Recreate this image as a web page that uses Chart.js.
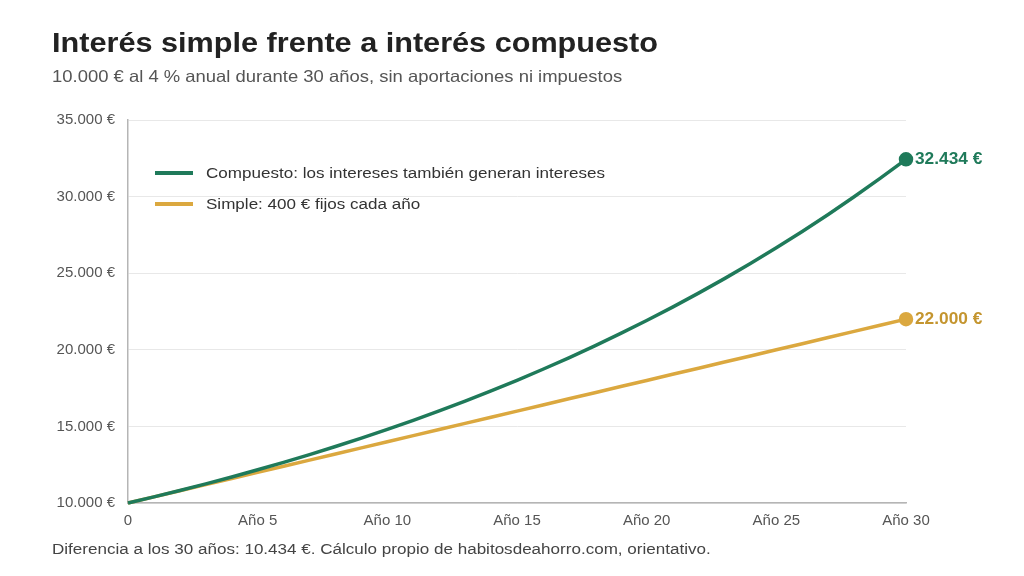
<!DOCTYPE html>
<html><head><meta charset="utf-8">
<script src="https://cdn.jsdelivr.net/npm/chart.js@4.4.1/dist/chart.umd.min.js"></script>
<style>
html,body{margin:0;padding:0;background:#fff;width:1024px;height:576px;overflow:hidden;font-family:"Liberation Sans",Arial,sans-serif;}
#wrap{position:relative;width:1024px;height:576px;}
canvas{position:absolute;left:0;top:0;}
.t{position:absolute;white-space:nowrap;transform-origin:0 50%;}
#title{left:52px;top:27px;font-size:28px;font-weight:bold;color:#222;transform:scaleX(1.094);}
#sub{left:52px;top:67px;font-size:16.5px;color:#555;transform:scaleX(1.118);}
#foot{left:52px;top:540px;font-size:15.5px;color:#444;transform:scaleX(1.10);}
.leg{position:absolute;left:155px;font-size:15.5px;color:#333;white-space:nowrap;}
.leg .sw{display:inline-block;width:38px;height:4.5px;vertical-align:middle;position:relative;top:-1px;}
.leg .lt{display:inline-block;margin-left:13px;transform:scaleX(1.10);transform-origin:0 50%;}
</style></head>
<body><div id="wrap">
<canvas id="c" width="1024" height="576"></canvas>
<div class="t" id="title">Interés simple frente a interés compuesto</div>
<div class="t" id="sub">10.000 € al 4 % anual durante 30 años, sin aportaciones ni impuestos</div>
<div class="t" id="foot">Diferencia a los 30 años: 10.434 €. Cálculo propio de habitosdeahorro.com, orientativo.</div>
<div class="leg" style="top:164px"><span class="sw" style="background:#1f7a5a"></span><span class="lt" id="leg1"></span></div>
<div class="leg" style="top:195px"><span class="sw" style="background:#dba83f"></span><span class="lt" id="leg2"></span></div>
</div>
<script>
const years = [0,1,2,3,4,5,6,7,8,9,10,11,12,13,14,15,16,17,18,19,20,21,22,23,24,25,26,27,28,29,30];
const compuesto = [10000,10400,10816,11249,11699,12167,12653,13159,13686,14233,14802,15395,16010,16651,17317,18009,18730,19479,20258,21068,21911,22788,23699,24647,25633,26658,27725,28834,29987,31187,32434];
const simple = [10000,10400,10800,11200,11600,12000,12400,12800,13200,13600,14000,14400,14800,15200,15600,16000,16400,16800,17200,17600,18000,18400,18800,19200,19600,20000,20400,20800,21200,21600,22000];
const seriesNames = ["Compuesto: los intereses también generan intereses","Simple: 400 € fijos cada año"];
const endLabels = ["32.434 €","22.000 €"];
const yTicks = [10000,15000,20000,25000,30000,35000];

document.getElementById('leg1').textContent = seriesNames[0];
document.getElementById('leg2').textContent = seriesNames[1];

const GREEN = "#1f7a5a", GOLD = "#dba83f", GOLD_TXT = "#c4952f";
const FONT = '"Liberation Sans", Arial, sans-serif';
function fmt(v){ return String(Math.round(v)).replace(/\B(?=(\d{3})+(?!\d))/g, ".") + " €"; }

const endLabelPlugin = {
  id:'endLabels',
  afterDatasetsDraw(chart){
    const ctx = chart.ctx;
    const cols = [GREEN, GOLD_TXT];
    chart.data.datasets.forEach((ds,i)=>{
      const meta = chart.getDatasetMeta(i);
      const pt = meta.data[meta.data.length-1];
      ctx.save();
      ctx.font = 'bold 16px ' + FONT;
      ctx.fillStyle = cols[i];
      ctx.textAlign = 'left';
      ctx.textBaseline = 'middle';
      ctx.translate(pt.x + 9, pt.y);
      ctx.scale(1.08, 1);
      ctx.fillText(endLabels[i], 0, 0.5);
      ctx.restore();
    });
  }
};

const lastR = (ctx)=> ctx.dataIndex === years.length-1 ? 5.5 : 0;

new Chart(document.getElementById('c'), {
  type:'line',
  data:{
    labels: years,
    datasets:[
      {label:seriesNames[0], data: years.map((x,i)=>({x:x,y:compuesto[i]})), borderColor:GREEN, backgroundColor:GREEN, borderWidth:3.5, pointRadius:lastR, pointHoverRadius:lastR, tension:0, clip:false},
      {label:seriesNames[1], data: years.map((x,i)=>({x:x,y:simple[i]})), borderColor:GOLD, backgroundColor:GOLD, borderWidth:3.5, pointRadius:lastR, pointHoverRadius:lastR, tension:0, clip:false}
    ]
  },
  options:{
    responsive:false, animation:false, events:[],
    layout:{padding:{top:120,right:118,left:0,bottom:0}},
    plugins:{legend:{display:false}, tooltip:{enabled:false}},
    scales:{
      x:{type:'linear', min:0, max:30,
        afterFit(s){ s.height = 73; },
        ticks:{stepSize:5, autoSkip:false, padding:9, color:'#555', font:{size:15, family:FONT},
          callback:(v)=> v===0 ? '0' : 'Año ' + v},
        grid:{display:false, drawTicks:false},
        border:{display:true, color:'#b5b5b5', width:1.5}
      },
      y:{min:10000, max:35000,
        afterFit(s){ s.width = 128; },
        afterBuildTicks(s){ s.ticks = yTicks.map(v=>({value:v})); },
        ticks:{padding:13, color:'#555', font:{size:15, family:FONT}, callback:(v)=>fmt(v)},
        grid:{color:'#e8e8e8', lineWidth:1, drawTicks:false},
        border:{display:true, color:'#b5b5b5', width:1.5}
      }
    }
  },
  plugins:[endLabelPlugin]
});
</script>
</body></html>
